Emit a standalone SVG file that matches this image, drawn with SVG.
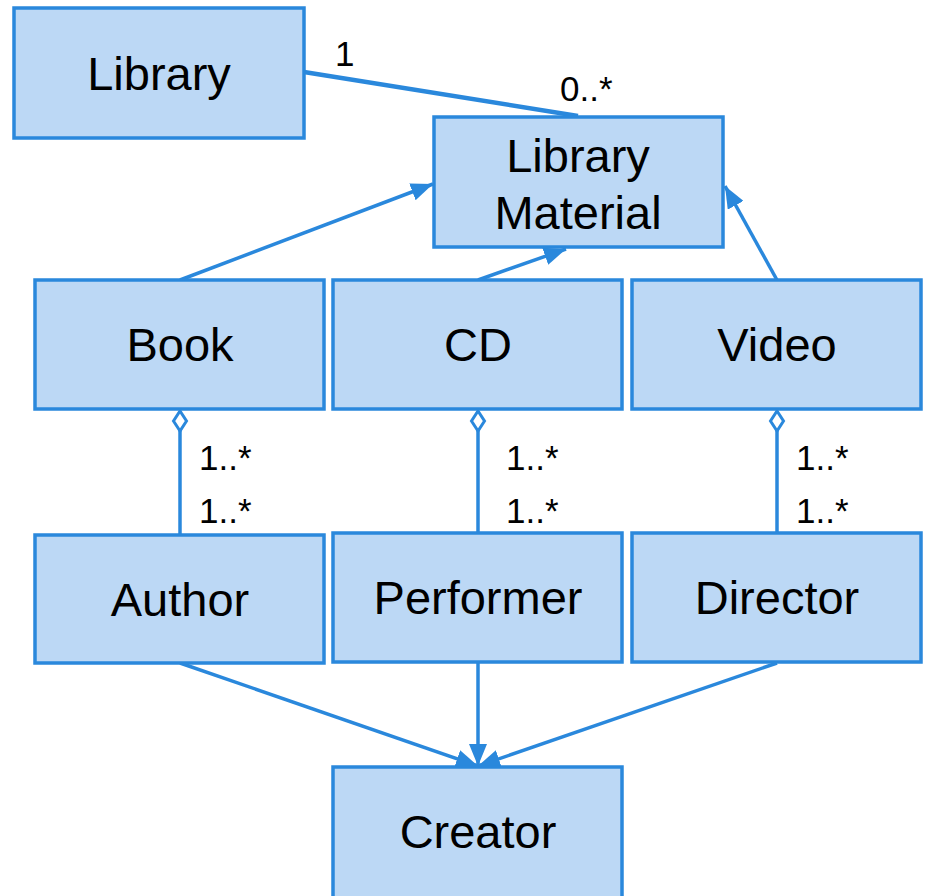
<svg xmlns="http://www.w3.org/2000/svg" width="926" height="896" viewBox="0 0 926 896">
<style>
.box{fill:#bcd8f5;stroke:#2a88dc;stroke-width:3.5}
.t{font-family:"Liberation Sans",Arial,sans-serif;font-size:47px;fill:#000;text-anchor:middle}
.s{font-family:"Liberation Sans",Arial,sans-serif;font-size:35px;fill:#000}
.c{stroke:#2a88dc;stroke-width:3.5;fill:none}
</style>
<defs>
<marker id="arr" viewBox="0 0 22 18" refX="22" refY="9" markerWidth="22" markerHeight="18" markerUnits="userSpaceOnUse" orient="auto">
<path d="M0,0 L22,9 L0,18 Z" fill="#2a88dc"/>
</marker>
<marker id="dia" viewBox="0 0 24 18" refX="22" refY="9" markerWidth="24" markerHeight="18" markerUnits="userSpaceOnUse" orient="auto">
<path d="M2,9 L12,2.5 L22,9 L12,15.5 Z" fill="#fff" stroke="#2a88dc" stroke-width="3"/>
</marker>
</defs>
<rect width="926" height="896" fill="#fff"/>
<g id="connectors">
<line class="c" x1="304" y1="72" x2="578" y2="116" style="stroke-width:4.5"/>
<line class="c" x1="180" y1="280" x2="433" y2="184" marker-end="url(#arr)"/>
<line class="c" x1="478" y1="280" x2="566" y2="249" marker-end="url(#arr)"/>
<line class="c" x1="777" y1="280" x2="725" y2="186" marker-end="url(#arr)"/>
<line class="c" x1="180" y1="535" x2="180" y2="411" marker-end="url(#dia)"/>
<line class="c" x1="478" y1="533" x2="478" y2="411" marker-end="url(#dia)"/>
<line class="c" x1="777" y1="533" x2="777" y2="411" marker-end="url(#dia)"/>
<line class="c" x1="180" y1="663" x2="478" y2="766" marker-end="url(#arr)"/>
<line class="c" x1="478" y1="663" x2="478" y2="766" marker-end="url(#arr)"/>
<line class="c" x1="777" y1="663" x2="478" y2="766" marker-end="url(#arr)"/>
<text class="s" x="335" y="66">1</text>
<text class="s" x="560" y="101">0..*</text>
<text class="s" x="199" y="470">1..*</text>
<text class="s" x="199" y="523">1..*</text>
<text class="s" x="506" y="470">1..*</text>
<text class="s" x="506" y="523">1..*</text>
<text class="s" x="796" y="470">1..*</text>
<text class="s" x="796" y="523">1..*</text>
</g>
<g id="library"><rect class="box" x="14" y="8" width="290" height="130"/><text class="t" x="159" y="90">Library</text></g>
<g id="libraryMaterial"><rect class="box" x="434" y="117" width="289" height="130"/><text class="t" x="578" y="172">Library</text><text class="t" x="578" y="229">Material</text></g>
<g id="book"><rect class="box" x="35" y="280" width="289" height="129"/><text class="t" x="180" y="361">Book</text></g>
<g id="cd"><rect class="box" x="333" y="280" width="289" height="129"/><text class="t" x="478" y="361">CD</text></g>
<g id="video"><rect class="box" x="632" y="280" width="289" height="129"/><text class="t" x="777" y="361">Video</text></g>
<g id="author"><rect class="box" x="35" y="535" width="289" height="128"/><text class="t" x="180" y="616">Author</text></g>
<g id="performer"><rect class="box" x="333" y="533" width="289" height="129"/><text class="t" x="478" y="614">Performer</text></g>
<g id="director"><rect class="box" x="632" y="533" width="289" height="129"/><text class="t" x="777" y="614">Director</text></g>
<g id="creator"><rect class="box" x="333" y="767" width="289" height="131"/><text class="t" x="478" y="848">Creator</text></g>
</svg>
